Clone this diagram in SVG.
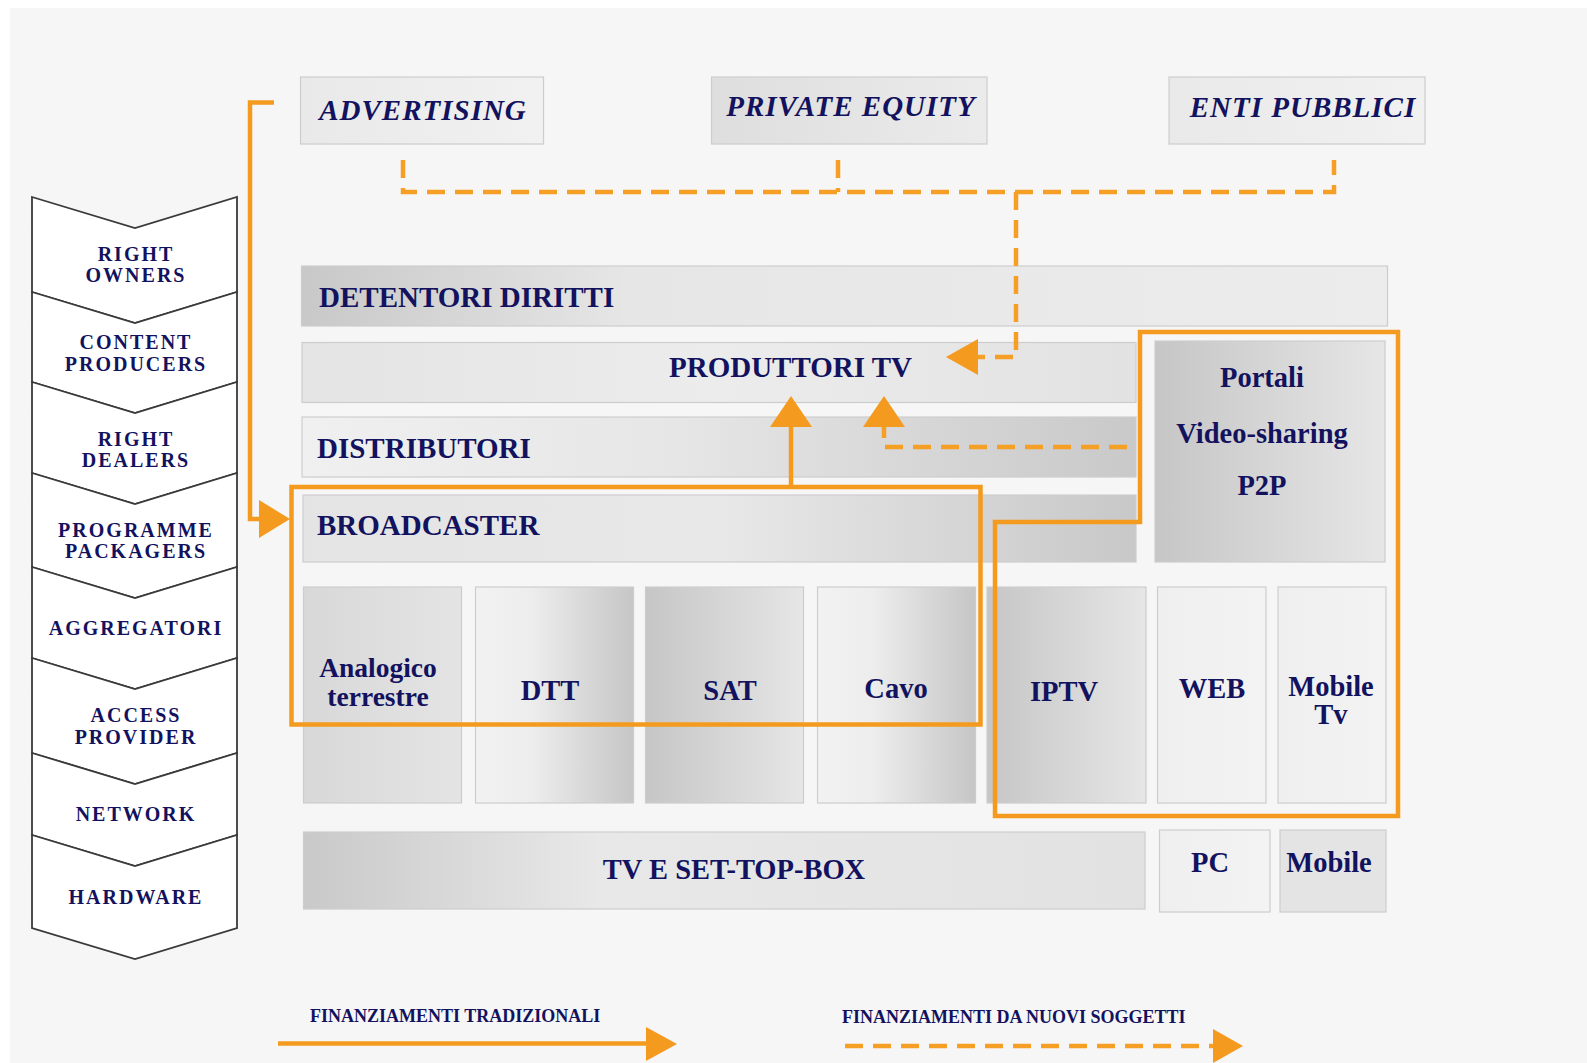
<svg xmlns="http://www.w3.org/2000/svg" width="1587" height="1063" viewBox="0 0 1587 1063">
<style>
.chev{fill:#ffffff;stroke:#3a3a3a;stroke-width:1.8;stroke-linejoin:miter}
.ct{font-family:"Liberation Serif","Times New Roman",serif;font-weight:bold;font-size:20px;letter-spacing:2px;fill:#12125e;text-anchor:middle}
.top{font-family:"Liberation Serif","Times New Roman",serif;font-weight:bold;font-style:italic;font-size:29px;letter-spacing:1px;fill:#12125e;text-anchor:middle}
.band{font-family:"Liberation Serif","Times New Roman",serif;font-weight:bold;font-size:29px;fill:#12125e}
.lbl{font-family:"Liberation Serif","Times New Roman",serif;font-weight:bold;font-size:28.5px;fill:#12125e;text-anchor:middle}
.leg{font-family:"Liberation Serif","Times New Roman",serif;font-weight:bold;font-size:18px;fill:#12125e}
.box{stroke:#cdcdcd;stroke-width:1.2}
.solid{fill:none;stroke:#F49A1F;stroke-width:4.5}
.dash{fill:none;stroke:#F5A025;stroke-width:4.5;stroke-dasharray:18 10}
.head{fill:#F49A1F}
</style>
<defs>
<linearGradient id="gTop" x1="0" y1="0" x2="1" y2="0"><stop offset="0" stop-color="#e9e9e9"/><stop offset="1" stop-color="#f1f1f1"/></linearGradient>
<linearGradient id="gTop2" x1="0" y1="0" x2="1" y2="0"><stop offset="0" stop-color="#dedede"/><stop offset="1" stop-color="#ebebeb"/></linearGradient>
<linearGradient id="gDet" x1="0" y1="0" x2="1" y2="0"><stop offset="0" stop-color="#c8c8c8"/><stop offset="0.3" stop-color="#e6e6e6"/><stop offset="1" stop-color="#ececec"/></linearGradient>
<linearGradient id="gProd" x1="0" y1="0" x2="1" y2="0"><stop offset="0" stop-color="#e4e4e4"/><stop offset="0.5" stop-color="#ececec"/><stop offset="1" stop-color="#e2e2e2"/></linearGradient>
<linearGradient id="gDist" x1="0" y1="0" x2="1" y2="0"><stop offset="0" stop-color="#f0f0f0"/><stop offset="0.45" stop-color="#e6e6e6"/><stop offset="1" stop-color="#c9c9c9"/></linearGradient>
<linearGradient id="gBroad" x1="0" y1="0" x2="1" y2="0"><stop offset="0" stop-color="#e4e4e4"/><stop offset="0.5" stop-color="#e8e8e8"/><stop offset="1" stop-color="#c8c8c8"/></linearGradient>
<linearGradient id="gDarkL" x1="0" y1="0" x2="1" y2="0"><stop offset="0" stop-color="#c6c6c6"/><stop offset="1" stop-color="#e6e6e6"/></linearGradient>
<linearGradient id="gDarkR" x1="0" y1="0" x2="1" y2="0"><stop offset="0" stop-color="#f2f2f2"/><stop offset="0.35" stop-color="#ededed"/><stop offset="1" stop-color="#c6c6c6"/></linearGradient>
<linearGradient id="gFlat" x1="0" y1="0" x2="1" y2="0"><stop offset="0" stop-color="#d8d8d8"/><stop offset="1" stop-color="#e4e4e4"/></linearGradient>
<linearGradient id="gLight" x1="0" y1="0" x2="1" y2="0"><stop offset="0" stop-color="#efefef"/><stop offset="1" stop-color="#f3f3f3"/></linearGradient>
<linearGradient id="gTv" x1="0" y1="0" x2="1" y2="0"><stop offset="0" stop-color="#c9c9c9"/><stop offset="0.35" stop-color="#e8e8e8"/><stop offset="1" stop-color="#e2e2e2"/></linearGradient>
</defs>

<rect x="0" y="0" width="1587" height="1063" fill="#ffffff"/>
<rect x="10" y="8" width="1577" height="1055" fill="#f6f6f6"/>

<g id="chain">
<polygon class="chev" points="32,197 135,228 237,197 237,292 135,323 32,292"/>
<polygon class="chev" points="32,292 135,323 237,292 237,382 135,413 32,382"/>
<polygon class="chev" points="32,382 135,413 237,382 237,473 135,504 32,473"/>
<polygon class="chev" points="32,473 135,504 237,473 237,567 135,598 32,567"/>
<polygon class="chev" points="32,567 135,598 237,567 237,658 135,689 32,658"/>
<polygon class="chev" points="32,658 135,689 237,658 237,753 135,784 32,753"/>
<polygon class="chev" points="32,753 135,784 237,753 237,835 135,866 32,835"/>
<polygon class="chev" points="32,835 135,866 237,835 237,928 135,959 32,928"/>
<text class="ct" x="136" y="261">RIGHT</text>
<text class="ct" x="136" y="282">OWNERS</text>
<text class="ct" x="136" y="349">CONTENT</text>
<text class="ct" x="136" y="371">PRODUCERS</text>
<text class="ct" x="136" y="446">RIGHT</text>
<text class="ct" x="136" y="467">DEALERS</text>
<text class="ct" x="136" y="537">PROGRAMME</text>
<text class="ct" x="136" y="558">PACKAGERS</text>
<text class="ct" x="136" y="635">AGGREGATORI</text>
<text class="ct" x="136" y="722">ACCESS</text>
<text class="ct" x="136" y="744">PROVIDER</text>
<text class="ct" x="136" y="821">NETWORK</text>
<text class="ct" x="136" y="904">HARDWARE</text>
</g>

<g id="advertising"><rect class="box" x="300.5" y="77" width="243" height="67" fill="url(#gTop)"/><text class="top" x="423" y="120">ADVERTISING</text></g>
<g id="private-equity"><rect class="box" x="711.5" y="77" width="275.5" height="67" fill="url(#gTop2)"/><text class="top" x="851" y="116">PRIVATE EQUITY</text></g>
<g id="enti-pubblici"><rect class="box" x="1169" y="77" width="256" height="67" fill="url(#gTop)"/><text class="top" x="1303" y="117">ENTI PUBBLICI</text></g>

<g id="detentori"><rect class="box" x="301.5" y="266" width="1086" height="60" fill="url(#gDet)"/><text class="band" x="319" y="307">DETENTORI DIRITTI</text></g>
<g id="produttori"><rect class="box" x="302" y="342.5" width="834" height="60" fill="url(#gProd)"/><text class="band" x="669" y="377">PRODUTTORI TV</text></g>
<g id="distributori"><rect class="box" x="302" y="417" width="834" height="60" fill="url(#gDist)"/><text class="band" x="317" y="458">DISTRIBUTORI</text></g>
<g id="broadcaster"><rect class="box" x="303" y="495" width="833" height="67" fill="url(#gBroad)"/><text class="band" x="317" y="535">BROADCASTER</text></g>
<g id="portali"><rect class="box" x="1155" y="341" width="230" height="221" fill="url(#gDarkL)"/>
<text class="lbl" x="1262" y="387">Portali</text>
<text class="lbl" x="1262" y="443">Video-sharing</text>
<text class="lbl" x="1262" y="495">P2P</text></g>

<g id="analogico"><rect class="box" x="303.5" y="587" width="158" height="216" fill="url(#gFlat)"/><text class="lbl" x="378" y="677" style="font-size:27.5px">Analogico</text><text class="lbl" x="378" y="706" style="font-size:27.5px">terrestre</text></g>
<g id="dtt"><rect class="box" x="475.5" y="587" width="158" height="216" fill="url(#gDarkR)"/><text class="lbl" x="550" y="700">DTT</text></g>
<g id="sat"><rect class="box" x="645.5" y="587" width="158" height="216" fill="url(#gDarkL)"/><text class="lbl" x="730" y="700">SAT</text></g>
<g id="cavo"><rect class="box" x="817.5" y="587" width="158" height="216" fill="url(#gDarkR)"/><text class="lbl" x="896" y="698">Cavo</text></g>
<g id="iptv"><rect class="box" x="987" y="587" width="159" height="216" fill="url(#gDarkL)"/><text class="lbl" x="1064" y="701">IPTV</text></g>
<g id="web"><rect class="box" x="1157.5" y="587" width="108.5" height="216" fill="url(#gLight)"/><text class="lbl" x="1212" y="698">WEB</text></g>
<g id="mobile-tv"><rect class="box" x="1278" y="587" width="108" height="216" fill="url(#gLight)"/><text class="lbl" x="1331" y="696">Mobile</text><text class="lbl" x="1331" y="724">Tv</text></g>

<g id="tv-stb"><rect class="box" x="303.5" y="832" width="841.5" height="77" fill="url(#gTv)"/><text class="lbl" x="734" y="879">TV E SET-TOP-BOX</text></g>
<g id="pc"><rect class="box" x="1159.5" y="830" width="110.5" height="82" fill="url(#gLight)"/><text class="lbl" x="1210" y="872">PC</text></g>
<g id="mobile"><rect class="box" x="1280" y="830" width="106" height="82" fill="#e4e4e4"/><text class="lbl" x="1329" y="872">Mobile</text></g>

<g id="frames">
<rect class="solid" x="291.5" y="487" width="689" height="237.5"/>
<path class="solid" d="M995,522 V816 H1398 V332 H1140 V522 Z"/>
</g>

<g id="connectors">
<path class="dash" d="M403,160 V192 H1334 V160"/>
<path class="dash" d="M838,160 V192"/>
<path class="dash" d="M1016,192 V357 H976"/>
<polygon class="head" points="946,357 978,339 978,375"/>
<path class="solid" d="M791,487 V424"/>
<polygon class="head" points="791,396 770,427 812,427"/>
<path class="dash" d="M1127,447 H884 V424"/>
<polygon class="head" points="884,396 863,427 905,427"/>
<path class="solid" d="M274,102.5 H250 V519 H262"/>
<polygon class="head" points="290,519 259,500 259,538"/>
</g>

<g id="legend">
<text class="leg" x="310" y="1022">FINANZIAMENTI TRADIZIONALI</text>
<path class="solid" d="M278,1043.5 H648"/>
<polygon class="head" points="677,1044 646,1027 646,1061"/>
<text class="leg" x="842" y="1023">FINANZIAMENTI DA NUOVI SOGGETTI</text>
<path class="dash" d="M845,1046 H1215"/>
<polygon class="head" points="1243,1046 1213,1029 1213,1063"/>
</g>
</svg>
